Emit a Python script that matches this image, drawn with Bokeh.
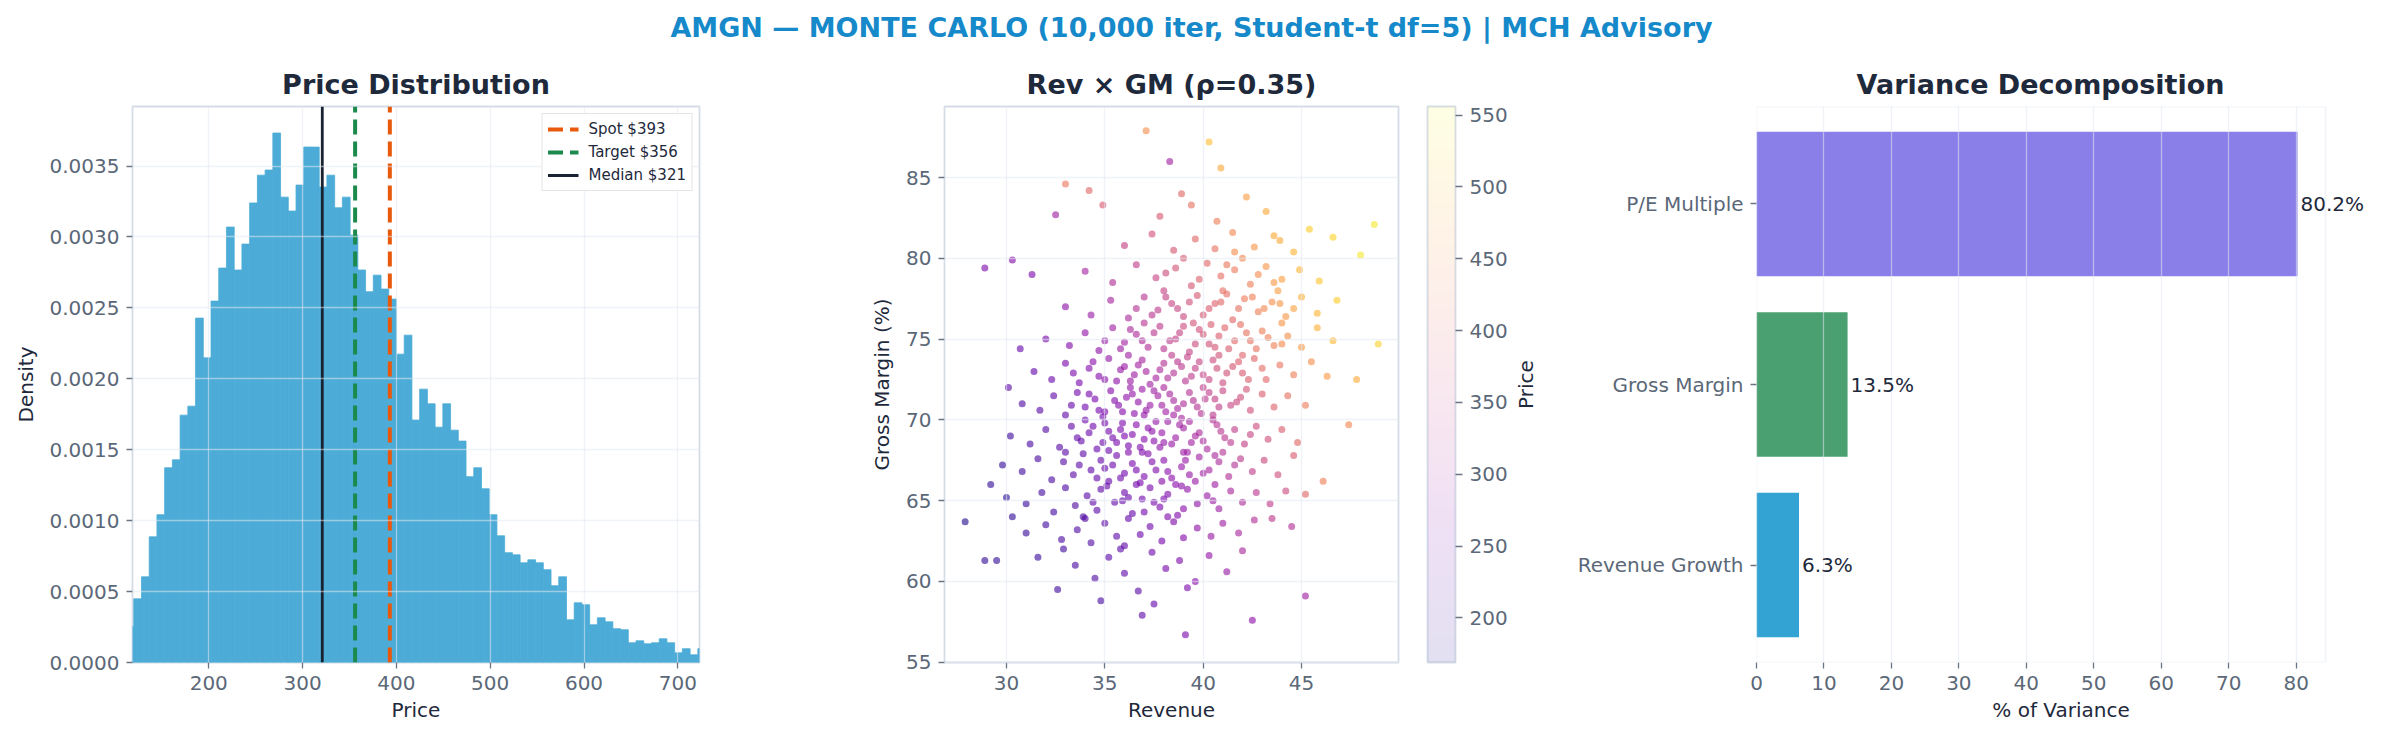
import math
import numpy as np
from bokeh.plotting import figure
from bokeh.models import (ColumnDataSource, Label, LinearColorMapper, BoxAnnotation,
                          FixedTicker, NumeralTickFormatter, Range1d)
from bokeh.layouts import column, row
from bokeh.palettes import Plasma256
from bokeh.embed import file_html
from bokeh.resources import INLINE

# ---------------- data ----------------
suptitle = "AMGN \u2014 MONTE CARLO (10,000 iter, Student-t df=5) | MCH Advisory"

# histogram of simulated price (density per bin)
hist_bin_start = 111.8
hist_bin_width = 8.237
hist_density = [
    0.000252, 0.000449, 0.000604, 0.000886, 0.001042, 0.001373, 0.001429, 0.001744,
    0.001807, 0.002428, 0.002148, 0.002548, 0.002781, 0.003070, 0.002767, 0.002950,
    0.003240, 0.003436, 0.003472, 0.003733, 0.003281, 0.003183, 0.003366, 0.003634,
    0.003634, 0.003352, 0.003436, 0.003206, 0.003281, 0.003013, 0.002767, 0.002614,
    0.002731, 0.002633, 0.002562, 0.002174, 0.002308, 0.001709, 0.001927, 0.001824,
    0.001659, 0.001824, 0.001638, 0.001561, 0.001310, 0.001373, 0.001225, 0.001042,
    0.000893, 0.000774, 0.000759, 0.000703, 0.000724, 0.000703, 0.000654, 0.000541,
    0.000604, 0.000301, 0.000421, 0.000407, 0.000266, 0.000315, 0.000287, 0.000238,
    0.000231, 0.000139, 0.000153, 0.000132, 0.000139, 0.000167, 0.000139, 0.000068,
    0.000097, 0.000054, 0.000097,
]
spot_price = 393
target_price = 356
median_price = 321
price_ticks = [200, 300, 400, 500, 600, 700]
density_ticks = [0.0, 0.0005, 0.0010, 0.0015, 0.0020, 0.0025, 0.0030, 0.0035]

# scatter sample: revenue, gross margin (%), simulated price
rev_sample = [
    37.1, 40.3, 40.9, 38.3, 33.0, 34.2, 34.9, 32.5, 28.9, 30.3, 31.3, 48.7, 48.9, 47.8, 47.4, 46.1, 45.2, 44.5,
    45.2, 42.5, 39.1, 36.9, 37.5, 34.8, 32.6, 29.5, 28.9, 27.9, 29.2, 30.1, 30.7, 48.0, 46.6, 43.9, 41.6,
    33.5, 34.5, 35.2, 36.0, 37.4, 38.1, 38.8, 39.6, 40.3, 41.2, 36.7, 39.2, 42.0, 35.8, 31.6, 32.9,
    31.0, 32.0, 32.8, 33.6, 34.3, 35.0, 35.6, 36.2, 36.8, 37.3, 37.9, 38.5, 39.0, 39.7, 40.4, 41.0, 41.8, 42.6,
    34.0, 36.0, 38.2, 30.3, 43.5,
    30.0, 31.0, 31.8, 32.4, 33.0, 33.5, 34.1, 34.6, 35.1, 35.5, 36.0, 36.4, 36.9, 37.3, 37.8, 38.2, 38.7, 39.2,
    39.7, 40.2, 40.8, 41.4, 42.0, 42.7, 43.4, 44.2, 34.8, 37.0, 38.9, 33.9, 36.6, 40.6,
    29.8, 30.8, 31.6, 32.3, 32.9, 33.4, 33.9, 34.3, 34.8, 35.2, 35.6, 36.0, 36.4, 36.8, 37.2, 37.6, 38.0, 38.4,
    38.9, 39.3, 39.8, 40.3, 40.8, 41.3, 41.9, 42.5, 43.1, 43.8, 44.6, 35.0, 37.0, 39.0, 41.0, 33.0, 36.2, 38.6,
    30.2, 31.2, 32.0, 32.7, 33.3, 33.8, 34.2, 34.6, 35.0, 35.4, 35.8, 36.2, 36.6, 37.0, 37.4, 37.8, 38.2, 38.6,
    39.0, 39.4, 39.8, 40.2, 40.7, 41.1, 41.6, 42.1, 42.7, 43.3, 44.0, 44.8, 36.0, 37.6, 39.2, 34.0, 40.5, 35.2, 38.0,
    30.8, 31.7, 32.4, 33.0, 33.6, 34.0, 34.5, 34.9, 35.3, 35.7, 36.1, 36.5, 36.9, 37.3, 37.7, 38.1, 38.5, 38.9,
    39.3, 39.7, 40.1, 40.5, 41.0, 41.4, 41.9, 42.4, 43.0, 43.6, 44.3, 45.2, 36.3, 38.0, 40.0, 35.0, 37.0, 39.0,
    31.4, 32.3, 33.0, 33.7, 34.2, 34.7, 35.2, 35.6, 36.0, 36.5, 36.9, 37.3, 37.8, 38.2, 38.7, 39.1, 39.6, 40.0,
    40.5, 41.0, 41.5, 42.0, 42.6, 43.2, 43.9, 44.6, 45.5, 46.3, 38.4, 40.8, 36.2,
    32.0, 33.2, 34.0, 34.7, 35.4, 36.0, 36.6, 37.2, 37.8, 38.3, 38.8, 39.3, 39.8, 40.3, 40.8, 41.3, 41.9, 42.4,
    43.0, 43.6, 44.3, 45.0, 45.8, 46.6, 37.0, 39.5, 42.0, 44.0,
    33.0, 34.3, 35.3, 36.2, 37.0, 37.7, 38.4, 39.0, 39.7, 40.3, 40.9, 41.5, 42.1, 42.8, 43.5, 44.2, 45.0, 45.8,
    46.8, 41.0, 43.8, 38.0,
    34.0, 35.4, 36.6, 37.6, 38.6, 39.4, 40.2, 40.9, 41.6, 42.4, 43.2, 44.0, 44.9, 45.9, 39.0, 42.0,
    36.0, 37.4, 38.5, 39.6, 40.6, 41.5, 42.6, 43.6, 44.6, 45.4,
    37.8, 39.4, 40.7, 42.2, 43.2, 38.9,
]
gm_sample = [
    87.9, 87.2, 85.6, 86.0, 84.6, 84.2, 83.3, 82.7, 79.4, 79.9, 79.0, 82.1, 74.7, 72.5, 69.7, 66.2, 65.4, 63.4,
    59.1, 57.6, 56.7, 57.9, 58.6, 58.8, 59.5, 61.3, 61.3, 63.7, 66.0, 72.0, 74.4, 80.2, 81.3, 81.1, 80.4,
    61.0, 60.2, 61.5, 60.5, 61.8, 60.8, 61.3, 60.0, 61.6, 60.6, 59.4, 59.6, 61.9, 62.0, 61.5, 62.0,
    63.0, 63.5, 62.6, 63.2, 62.4, 63.6, 62.8, 63.9, 62.9, 63.4, 62.5, 63.7, 62.7, 63.3, 62.8, 63.6, 63.0, 63.8,
    63.9, 62.2, 64.0, 64.0, 63.9,
    65.2, 64.8, 65.5, 64.3, 65.8, 64.7, 65.3, 64.4, 65.9, 64.9, 65.5, 64.2, 65.1, 65.8, 64.6, 65.4, 64.1, 65.7,
    64.8, 65.3, 64.5, 65.6, 64.9, 65.5, 64.8, 65.6, 65.7, 64.3, 65.9, 64.0, 66.0, 66.0,
    67.2, 66.8, 67.6, 66.3, 67.4, 66.6, 67.9, 66.9, 67.5, 66.2, 67.8, 66.7, 67.3, 66.1, 67.9, 66.9, 67.5, 66.4,
    67.1, 66.6, 67.7, 66.9, 67.4, 66.5, 67.6, 66.8, 67.5, 66.6, 67.8, 67.0, 66.5, 68.0, 68.0, 68.0, 68.0, 66.0,
    69.0, 68.5, 69.4, 68.3, 69.6, 68.7, 69.2, 68.2, 69.8, 68.9, 69.4, 68.4, 69.7, 68.8, 69.3, 68.3, 69.9, 68.9,
    69.5, 68.6, 69.2, 68.2, 69.7, 68.9, 69.4, 68.5, 69.6, 68.8, 69.4, 68.6, 69.0, 69.9, 68.0, 70.0, 70.0, 68.1, 68.6,
    71.0, 70.6, 71.5, 70.3, 71.7, 70.8, 71.3, 70.2, 71.8, 70.9, 71.4, 70.4, 71.9, 70.9, 71.5, 70.5, 71.2, 70.1,
    71.7, 70.8, 71.3, 70.3, 71.8, 70.9, 71.4, 70.6, 71.6, 70.8, 71.5, 70.9, 72.0, 72.0, 72.0, 70.5, 70.3, 71.0,
    73.0, 72.5, 73.5, 72.3, 73.2, 72.7, 73.8, 72.4, 73.3, 72.8, 73.7, 72.2, 73.1, 72.6, 73.6, 72.4, 73.2, 72.8,
    73.7, 72.3, 73.3, 72.9, 73.8, 72.5, 73.4, 72.8, 73.6, 72.7, 74.0, 74.0, 74.0,
    75.0, 74.6, 75.4, 74.3, 75.7, 74.8, 75.3, 74.5, 75.8, 74.9, 75.4, 74.2, 75.6, 74.7, 75.2, 74.4, 75.9, 74.9,
    75.5, 74.6, 75.2, 74.5, 75.7, 74.9, 76.0, 76.0, 74.0, 76.0,
    77.0, 76.5, 77.4, 76.3, 77.6, 76.8, 77.2, 76.4, 77.7, 76.9, 77.3, 76.2, 77.5, 76.7, 77.3, 76.4, 77.6, 76.6,
    77.4, 78.0, 78.0, 78.0,
    79.2, 78.5, 79.6, 78.8, 79.4, 78.3, 79.7, 78.9, 79.3, 78.4, 79.5, 78.7, 79.3, 78.6, 80.0, 80.0,
    80.8, 81.5, 80.5, 81.2, 80.6, 81.6, 80.7, 81.4, 80.4, 81.8,
    82.6, 83.3, 82.3, 83.8, 82.9, 84.0,
]
price_sample = [
    450, 500, 480, 300, 420, 400, 380, 300, 260, 270, 260, 540, 520, 480, 440, 430, 400, 320,
    300, 280, 260, 230, 240, 210, 200, 190, 190, 180, 190, 230, 240, 540, 520, 480, 450,
    210, 215, 225, 230, 245, 255, 265, 270, 285, 290, 225, 260, 310, 225, 195, 205,
    195, 205, 210, 215, 220, 230, 230, 240, 245, 250, 255, 265, 270, 280, 290, 300, 310, 320,
    220, 235, 262, 190, 335,
    185, 195, 205, 205, 215, 215, 225, 225, 235, 235, 245, 240, 250, 258, 258, 265, 265, 280,
    280, 290, 295, 310, 315, 330, 340, 360, 232, 248, 278, 215, 250, 300,
    190, 200, 210, 210, 220, 225, 232, 232, 240, 240, 250, 250, 258, 255, 268, 265, 275, 275,
    285, 288, 300, 305, 315, 318, 335, 340, 355, 365, 385, 242, 260, 292, 325, 225, 262, 272,
    200, 210, 220, 222, 232, 235, 242, 240, 255, 252, 260, 258, 270, 270, 278, 278, 292, 292,
    300, 302, 312, 312, 328, 330, 342, 345, 362, 370, 388, 400, 262, 285, 298, 245, 325, 245, 284,
    215, 225, 235, 235, 248, 248, 258, 255, 270, 268, 278, 275, 290, 290, 300, 300, 310, 308,
    325, 325, 335, 335, 352, 352, 365, 368, 385, 392, 410, 425, 285, 310, 340, 260, 283, 316,
    235, 245, 258, 255, 268, 270, 285, 278, 292, 295, 308, 300, 315, 318, 332, 330, 345, 348,
    362, 358, 375, 380, 398, 398, 418, 428, 450, 460, 338, 370, 300,
    255, 268, 282, 280, 298, 302, 315, 318, 335, 338, 350, 348, 368, 370, 385, 385, 408, 410,
    428, 432, 450, 460, 485, 495, 328, 372, 395, 455,
    280, 290, 308, 312, 332, 338, 352, 355, 378, 385, 400, 398, 425, 430, 450, 458, 485, 492,
    515, 408, 465, 350,
    305, 318, 340, 352, 372, 375, 400, 408, 425, 430, 455, 468, 490, 505, 380, 440,
    345, 368, 378, 400, 415, 440, 455, 478, 490, 515,
    380, 410, 428, 465, 478, 400,
]
# denser core of the cloud
rev_core = [
    34.4, 35.9, 37.5, 39.0, 40.5, 36.2, 38.0,
    33.7, 34.6, 35.4, 36.6, 37.4, 38.2, 39.1, 40.0, 40.6, 41.6, 35.8, 37.9, 39.6,
    33.6, 34.4, 35.2, 35.6, 36.4, 36.8, 37.2, 37.9, 38.4, 38.8, 39.6, 40.0, 40.9, 41.4, 42.4, 34.9, 36.9, 39.3, 37.5, 35.9,
    33.3, 34.2, 34.7, 35.5, 35.9, 36.7, 37.1, 37.5, 37.9, 38.3, 38.7, 39.5, 39.9, 40.3, 40.8, 41.7, 42.2, 36.4, 38.5, 40.6,
    33.4, 34.4, 35.0, 35.8, 36.3, 37.1, 37.6, 38.0, 38.5, 38.9, 39.4, 39.8, 40.3, 40.7, 41.2, 41.8, 42.3, 43.0, 36.7, 39.2,
    35.0, 35.8, 36.3, 36.9, 37.5, 38.0, 38.6, 39.0, 39.6, 40.0, 40.6, 41.1, 41.6, 42.2, 42.7, 43.3, 44.0, 40.4,
    36.6, 37.4, 38.1, 38.7, 39.3, 40.0, 40.6, 41.2, 41.8, 42.5, 43.1, 43.9, 44.6,
    38.1, 39.8, 41.2, 42.8, 43.6,
]
gm_core = [
    64.9, 65.0, 64.9, 64.5, 65.0, 65.2, 65.1,
    67.2, 66.4, 67.2, 66.9, 67.4, 66.8, 67.5, 66.7, 67.8, 67.2, 66.4, 66.2, 66.2,
    68.9, 69.6, 69.3, 68.6, 69.1, 68.3, 69.5, 69.2, 68.5, 69.7, 69.0, 68.7, 69.3, 68.6, 69.1, 68.6, 68.0, 69.9, 68.7, 69.8,
    70.9, 71.6, 70.6, 71.2, 70.5, 71.1, 70.6, 71.8, 70.9, 71.6, 70.7, 71.2, 70.4, 71.7, 70.8, 71.1, 71.9, 71.6, 70.3, 71.3,
    72.9, 73.6, 72.5, 73.1, 72.4, 73.0, 72.6, 73.5, 72.9, 73.3, 72.7, 73.6, 72.5, 73.2, 72.9, 73.6, 72.5, 73.2, 73.4, 73.9,
    74.9, 74.4, 75.6, 74.9, 75.4, 74.4, 75.0, 75.8, 74.7, 75.3, 74.5, 75.7, 74.9, 75.4, 74.4, 75.1, 74.7, 75.9,
    76.9, 76.5, 77.6, 76.9, 77.3, 76.5, 77.2, 77.8, 76.9, 77.6, 76.9, 77.2, 76.9,
    79.1, 78.7, 79.6, 79.0, 78.5,
]
price_core = [
    228, 240, 255, 272, 292, 243, 262,
    230, 235, 245, 255, 265, 275, 290, 300, 312, 325, 247, 270, 290,
    238, 248, 255, 255, 265, 265, 278, 284, 288, 298, 306, 310, 330, 335, 352, 246, 262, 305, 272, 262,
    240, 255, 255, 268, 268, 280, 283, 296, 298, 308, 306, 322, 324, 340, 342, 358, 372, 283, 302, 345,
    260, 275, 275, 288, 292, 305, 308, 322, 325, 335, 338, 352, 352, 365, 370, 388, 388, 405, 302, 345,
    290, 295, 312, 318, 330, 332, 345, 362, 360, 372, 375, 395, 398, 415, 415, 432, 445, 385,
    325, 332, 350, 352, 368, 375, 392, 408, 412, 432, 440, 458, 470,
    362, 390, 420, 445, 460,
]
price_color_low = 169
price_color_high = 556
rev_ticks = [30, 35, 40, 45]
gm_ticks = [55, 60, 65, 70, 75, 80, 85]
cbar_ticks = [200, 250, 300, 350, 400, 450, 500, 550]

# variance decomposition
var_factors = ["Revenue Growth", "Gross Margin", "P/E Multiple"]
var_share = [6.3, 13.5, 80.2]
var_colors = ["#33a3d4", "#4aa070", "#8a7fe8"]
var_ticks = [0, 10, 20, 30, 40, 50, 60, 70, 80]
var_xmax = 84.35

# ---------------- style ----------------
FONT = "DejaVu Sans"
DARK = "#1e293b"
TICK_C = "#5b6878"
SUP_C = "#1589c9"
FRAME_C = "#d5dce6"


def style(p, xgrid=True, ygrid=True):
    p.background_fill_color = "white"
    p.border_fill_color = "white"
    p.outline_line_color = FRAME_C
    p.outline_line_width = 1.8
    for ax in p.axis:
        ax.axis_line_color = None
        ax.major_tick_line_color = "#6b7685"
        ax.major_tick_line_width = 1.3
        ax.major_tick_in = 0
        ax.major_tick_out = 6
        ax.minor_tick_line_color = None
        ax.major_label_text_font = FONT
        ax.major_label_text_font_size = "20px"
        ax.major_label_text_color = TICK_C
        ax.axis_label_text_font = FONT
        ax.axis_label_text_font_size = "20px"
        ax.axis_label_text_color = DARK
        ax.axis_label_text_font_style = "normal"
        ax.major_label_standoff = 7
        ax.axis_label_standoff = 5
    for ax in p.yaxis:
        ax.axis_label_standoff = 9
    for g in p.xgrid:
        g.visible = xgrid
    for g in p.ygrid:
        g.visible = ygrid
    for g in p.grid:
        g.grid_line_color = "#e2e8f0"
        g.grid_line_alpha = 0.55
        g.grid_line_width = 1.3
        g.level = "annotation"
    if p.title is not None:
        p.title.text_font = FONT
        p.title.text_font_size = "27px"
        p.title.text_font_style = "bold"
        p.title.text_color = DARK
        p.title.align = "center"
        p.title.standoff = 14


TITLE_H = 44
ROW_H = 682
TOP = 62
BOTTOM = 64

# ---------------- suptitle ----------------
pt = figure(width=2366, height=TITLE_H, x_range=(0, 1), y_range=(0, 1), title=suptitle,
            x_axis_location=None, y_axis_location=None, min_border_left=16,
            min_border_right=0, min_border_top=42, min_border_bottom=0,
            output_backend="svg", toolbar_location=None)
pt.outline_line_color = None
pt.grid.visible = False
pt.title.text_font = FONT
pt.title.text_font_size = "27px"
pt.title.text_font_style = "bold"
pt.title.text_color = SUP_C
pt.title.align = "center"
pt.title.standoff = 0
pt.title.offset = 0

# ---------------- panel 1: histogram ----------------
n_bins = len(hist_density)
left_edges = [hist_bin_start + i * hist_bin_width for i in range(n_bins)]
right_edges = [e + hist_bin_width for e in left_edges]
hsrc = ColumnDataSource(dict(left=left_edges, right=right_edges, top=hist_density,
                             bottom=[0.0] * n_bins))

p1 = figure(width=780, height=ROW_H, title="Price Distribution",
            x_range=Range1d(118.7, 723.1), y_range=Range1d(0, 0.00392),
            min_border_left=132, min_border_right=81, min_border_top=TOP,
            min_border_bottom=BOTTOM, output_backend="svg", toolbar_location=None)
p1.quad(left="left", right="right", top="top", bottom="bottom", source=hsrc,
        fill_color="#4cacd7", line_color="#4cacd7", line_width=0.8)
y_top = p1.y_range.end
p1.segment(x0=[spot_price], x1=[spot_price], y0=[0], y1=[y_top], line_color="#e8590c",
           line_width=4, line_dash="15 7", legend_label=f"Spot ${spot_price}")
p1.segment(x0=[target_price], x1=[target_price], y0=[0], y1=[y_top], line_color="#1b8a4c",
           line_width=4, line_dash="15 7", legend_label=f"Target ${target_price}")
p1.segment(x0=[median_price], x1=[median_price], y0=[0], y1=[y_top], line_color="#1a2332",
           line_width=2.8, legend_label=f"Median ${median_price}")
p1.xaxis.ticker = FixedTicker(ticks=price_ticks)
p1.yaxis.ticker = FixedTicker(ticks=density_ticks)
p1.yaxis.formatter = NumeralTickFormatter(format="0.0000")
p1.xaxis.axis_label = "Price"
p1.yaxis.axis_label = "Density"
style(p1)
lg = p1.legend[0]
lg.location = "top_right"
lg.margin = 7
lg.padding = 5
lg.spacing = 3
lg.label_text_font = FONT
lg.label_text_font_size = "15px"
lg.label_text_color = DARK
lg.glyph_width = 31
lg.glyph_height = 20
lg.label_height = 20
lg.label_standoff = 10
lg.border_line_color = "#cccccc"
lg.border_line_width = 1.5
lg.background_fill_alpha = 0.9

# ---------------- panel 2: scatter ----------------
mapper = LinearColorMapper(palette=Plasma256, low=price_color_low, high=price_color_high)
ssrc = ColumnDataSource(dict(rev=rev_sample + rev_core, gm=gm_sample + gm_core,
                             price=price_sample + price_core))
p2 = figure(width=630, height=ROW_H, title="Rev \u00d7 GM (\u03c1=0.35)",
            x_range=Range1d(26.85, 49.93), y_range=Range1d(54.98, 89.4),
            min_border_left=164, min_border_right=12, min_border_top=TOP,
            min_border_bottom=BOTTOM, output_backend="svg", toolbar_location=None)
p2.scatter(x="rev", y="gm", source=ssrc, size=7,
           fill_color={"field": "price", "transform": mapper}, line_color=None,
           fill_alpha=0.6)
p2.xaxis.ticker = FixedTicker(ticks=rev_ticks)
p2.yaxis.ticker = FixedTicker(ticks=gm_ticks)
p2.xaxis.axis_label = "Revenue"
p2.yaxis.axis_label = "Gross Margin (%)"
style(p2)

# colour bar as its own small plot
pc = figure(width=100, height=ROW_H, x_range=Range1d(0, 1),
            y_range=Range1d(price_color_low, price_color_high),
            x_axis_location=None, y_axis_location="right",
            min_border_left=17, min_border_right=55, min_border_top=TOP,
            min_border_bottom=BOTTOM, output_backend="svg", toolbar_location=None)
grad = np.linspace(price_color_low, price_color_high, 256).reshape(256, 1)
pc.image(image=[grad], x=0, y=price_color_low, dw=1, dh=price_color_high - price_color_low,
         color_mapper=mapper, global_alpha=0.12)
pc.yaxis.ticker = FixedTicker(ticks=cbar_ticks)
style(pc, xgrid=False, ygrid=False)
pc.yaxis.major_tick_out = 7
pc.yaxis.major_label_standoff = 7

# colour bar label (left-axis label of a narrow empty plot, reads bottom-to-top)
pl = figure(width=40, height=ROW_H, x_range=Range1d(0, 1), y_range=Range1d(0, 1),
            x_axis_location=None, y_axis_location="left",
            min_border_left=27, min_border_right=0, min_border_top=TOP,
            min_border_bottom=BOTTOM, output_backend="svg", toolbar_location=None)
pl.outline_line_color = None
pl.grid.visible = False
pl.yaxis.ticker = FixedTicker(ticks=[])
pl.yaxis.axis_label = "Price"
pl.yaxis.axis_line_color = None
pl.yaxis.major_tick_out = 0
pl.yaxis.major_tick_in = 0
pl.yaxis.minor_tick_line_color = None
pl.yaxis.major_label_standoff = 0
pl.yaxis.axis_label_standoff = 0
pl.yaxis.axis_label_text_font = FONT
pl.yaxis.axis_label_text_font_size = "20px"
pl.yaxis.axis_label_text_font_style = "normal"
pl.yaxis.axis_label_text_color = DARK

# ---------------- panel 3: variance decomposition ----------------
P3_LEFT = 206
P3_VIS_W = 569
P3_FRAME_W = 816 - P3_LEFT - 1
idx = list(range(len(var_factors)))
y_lo, y_hi = -0.54, len(var_factors) - 1 + 0.54
vsrc = ColumnDataSource(dict(y=idx, share=var_share, color=var_colors))
p3 = figure(width=816, height=ROW_H, title="Variance Decomposition",
            x_range=Range1d(0, var_xmax * P3_FRAME_W / P3_VIS_W), y_range=Range1d(y_lo, y_hi),
            min_border_left=P3_LEFT, min_border_right=1, min_border_top=TOP,
            min_border_bottom=BOTTOM, output_backend="svg", toolbar_location=None)
p3.hbar(y="y", right="share", height=0.8, left=0, source=vsrc, fill_color="color",
        line_color=None)
for i, v in zip(idx, var_share):
    p3.add_layout(Label(x=v, y=i, x_offset=3, text=f"{v:.1f}%", text_baseline="middle",
                        text_align="left", text_font=FONT, text_font_size="20px",
                        text_color=DARK))
p3.xaxis.ticker = FixedTicker(ticks=var_ticks)
p3.xaxis.bounds = (0, var_xmax)
p3.yaxis.ticker = FixedTicker(ticks=idx)
p3.yaxis.major_label_overrides = {i: f for i, f in zip(idx, var_factors)}
p3.xaxis.axis_label = "% of Variance"
style(p3, xgrid=True, ygrid=False)
p3.outline_line_color = None
p3.add_layout(BoxAnnotation(left=0, right=var_xmax, bottom=y_lo, top=y_hi,
                            fill_color=None, line_color=FRAME_C, line_width=1.8))
p3.title.align = "left"
p3.title.offset = 100

layout = column(pt, row(p1, p2, pc, pl, p3))
open("out.html", "w").write(file_html(layout, INLINE))
